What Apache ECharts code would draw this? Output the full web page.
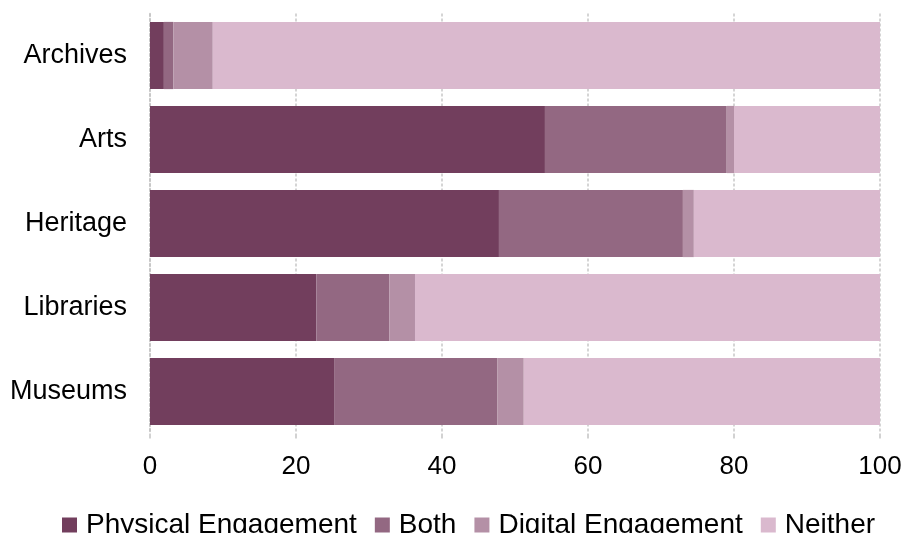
<!DOCTYPE html>
<html>
<head>
<meta charset="utf-8">
<script src="https://cdn.jsdelivr.net/npm/echarts@6/dist/echarts.min.js"></script>
<style>
  html, body { margin: 0; padding: 0; background: #ffffff; }
  #chart { width: 905px; height: 533px; }
</style>
</head>
<body>
<div id="chart"></div>
<script>
// Share of organisations by type of engagement (%)
const categories = ['Archives', 'Arts', 'Heritage', 'Libraries', 'Museums'];
const physical = [1.9, 54.1, 47.8, 22.8, 25.3];
const both = [1.3, 24.9, 25.2, 10.0, 22.3];
const digital = [5.4, 1.0, 1.5, 3.5, 3.6];
const neither = [91.4, 20.0, 25.5, 63.7, 48.8];
const seriesNames = ['Physical Engagement', 'Both', 'Digital Engagement', 'Neither'];
const xTicks = [0, 20, 40, 60, 80, 100];

const colors = ['#723E5D', '#936882', '#B490A6', '#DAB9CE'];
const values = [physical, both, digital, neither];
const font = '"Liberation Sans", Arial, sans-serif';

const chart = echarts.init(document.getElementById('chart'), null, { renderer: 'canvas' });

chart.setOption({
  animation: false,
  color: colors,
  grid: { left: 150, right: 25, top: 13.5, bottom: 99.5, containLabel: false },
  legend: {
    data: seriesNames,
    left: 57,
    top: 506,
    itemWidth: 15,
    itemHeight: 15,
    itemGap: 18,
    icon: 'rect',
    textStyle: { fontFamily: font, fontSize: 28, color: '#000', padding: [0, 0, 0, 4] }
  },
  xAxis: {
    type: 'value',
    min: xTicks[0],
    max: xTicks[xTicks.length - 1],
    interval: 20,
    axisLine: { show: false },
    axisTick: { show: true, length: 5, lineStyle: { color: '#c4c4c4', width: 1.5 } },
    axisLabel: { fontFamily: font, fontSize: 26, color: '#000', margin: 20 },
    splitLine: { show: true, lineStyle: { color: '#c8c8c8', width: 1.5, type: [3, 2] } }
  },
  yAxis: {
    type: 'category',
    data: categories,
    inverse: true,
    axisLine: { show: true, lineStyle: { color: '#c4c4c4', width: 1.5, type: [3, 2] } },
    axisTick: { show: false },
    axisLabel: { fontFamily: font, fontSize: 27, color: '#000', margin: 23 }
  },
  series: seriesNames.map((name, i) => ({
    name: name,
    type: 'bar',
    stack: 'total',
    barCategoryGap: '20%',
    data: values[i],
    itemStyle: { color: colors[i] }
  }))
});
</script>
</body>
</html>
